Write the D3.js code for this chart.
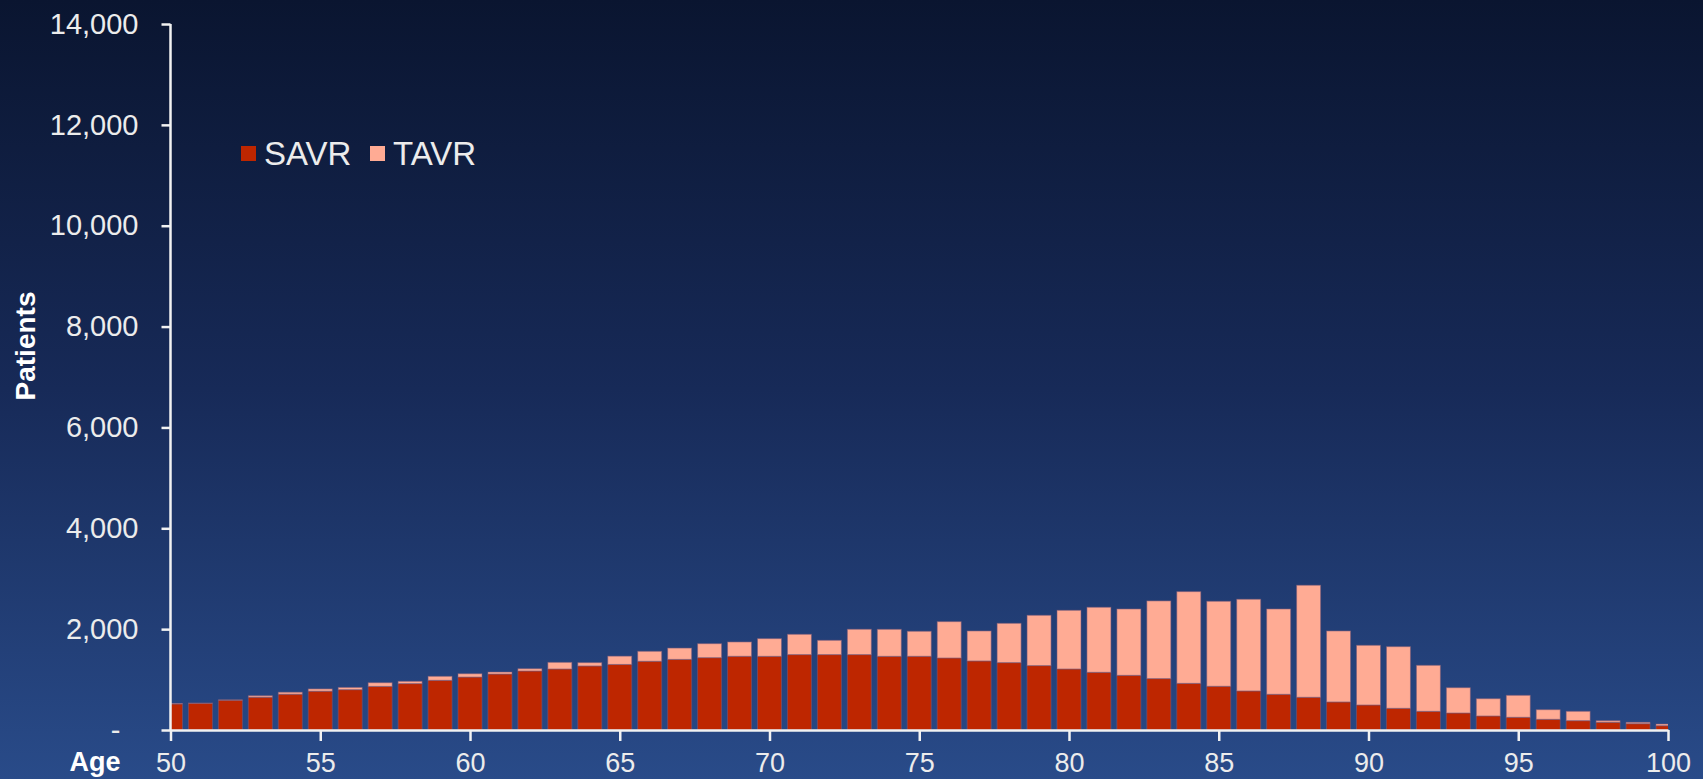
<!DOCTYPE html>
<html>
<head>
<meta charset="utf-8">
<script src="https://cdn.jsdelivr.net/npm/d3@7/dist/d3.min.js"></script>
<style>
  html, body { margin: 0; padding: 0; background: #0b1732; }
  svg { display: block; }
  text { font-family: "Liberation Sans", Arial, sans-serif; }
</style>
</head>
<body>
<svg id="chart" width="1703" height="779"></svg>
<script>
// Patients by age (50–100) receiving surgical vs. transcatheter valve replacement
const ages = [50,51,52,53,54,55,56,57,58,59,60,61,62,63,64,65,66,67,68,69,70,71,72,73,74,75,
              76,77,78,79,80,81,82,83,84,85,86,87,88,89,90,91,92,93,94,95,96,97,98,99,100];
const savr = [516,530,590,650,710,770,800,865,920,985,1050,1110,1170,1210,1270,1300,1363,1400,1434,1462,
              1461,1495,1495,1495,1461,1462,1428,1369,1336,1277,1210,1144,1084,1019,925,867,774,708,649,556,
              496,430,370,337,278,252,212,185,153,125,85];
const tavr = [10,5,8,30,40,45,45,73,46,80,66,40,46,132,66,165,198,225,278,284,
              351,403,284,503,536,496,721,595,780,998,1164,1290,1316,1541,1819,1686,1819,1692,2222,1408,
              1184,1223,913,502,343,436,191,186,32,28,34];
const seriesNames = ["SAVR", "TAVR"];
const seriesColors = ["#be2600", "#ffab94"];
const yTicks = [0,2000,4000,6000,8000,10000,12000,14000];
const xTicks = [50,55,60,65,70,75,80,85,90,95,100];

(function draw() {
  const svg = d3.select("#chart");
  const W = 1703, H = 779;
  const plotL = 170.5, plotR = 1668, plotT = 24, plotB = 730;

  // background gradient
  const defs = svg.append("defs");
  const grad = defs.append("linearGradient").attr("id", "bg")
    .attr("x1", 0).attr("y1", 0).attr("x2", 0).attr("y2", 1);
  grad.append("stop").attr("offset", "0%").attr("stop-color", "#0a1530");
  grad.append("stop").attr("offset", "50%").attr("stop-color", "#172a58");
  grad.append("stop").attr("offset", "100%").attr("stop-color", "#294b89");
  svg.append("rect").attr("width", W).attr("height", H).attr("fill", "url(#bg)");

  defs.append("clipPath").attr("id", "plot")
    .append("rect").attr("x", plotL).attr("y", plotT)
    .attr("width", plotR - plotL).attr("height", plotB - plotT);

  const x = d3.scaleLinear().domain([50, 100]).range([plotL, plotR]);
  const y = d3.scaleLinear().domain([0, 14000]).range([plotB, plotT]);
  const barW = 24;

  const rows = ages.map((a, i) => ({ age: a, SAVR: savr[i], TAVR: tavr[i] }));
  const stacked = d3.stack().keys(seriesNames)(rows);

  const gBars = svg.append("g").attr("clip-path", "url(#plot)");
  gBars.selectAll("g.series").data(stacked).join("g")
    .attr("class", "series")
    .attr("fill", (d, i) => seriesColors[i])
    .selectAll("rect").data(d => d).join("rect")
    .attr("x", d => x(d.data.age) - barW / 2)
    .attr("width", barW)
    .attr("y", d => y(d[1]))
    .attr("height", d => Math.max(0, y(d[0]) - y(d[1])))
    .attr("stroke", "rgba(120,90,120,0.55)")
    .attr("stroke-width", 1);

  // y axis
  const yAxis = d3.axisLeft(y).tickValues(yTicks).tickSize(9).tickPadding(23)
    .tickFormat(d => d === 0 ? "-" : d3.format(",")(d));
  const gy = svg.append("g").attr("transform", `translate(${plotL},0)`).call(yAxis);
  gy.select(".domain").attr("stroke", "#f2f2f2").attr("stroke-width", 2.5)
    .attr("d", `M0,${plotT}V${plotB}`);
  gy.selectAll(".tick line").attr("stroke", "#f2f2f2").attr("stroke-width", 2.5);
  gy.selectAll(".tick text").attr("fill", "#ececec").attr("font-size", 29)
    .attr("font-family", "'Liberation Sans', Arial, sans-serif")
    .attr("dx", d => d === 0 ? -18 : 0);

  // x axis
  const xAxis = d3.axisBottom(x).tickValues(xTicks).tickSize(11).tickPadding(12).tickSizeOuter(0);
  const gx = svg.append("g").attr("transform", `translate(0,${plotB})`).call(xAxis);
  gx.select(".domain").attr("stroke", "#f2f2f2").attr("stroke-width", 2.5);
  gx.selectAll(".tick line").attr("stroke", "#f2f2f2").attr("stroke-width", 2.5);
  gx.selectAll(".tick text").attr("fill", "#ececec").attr("font-size", 27)
    .attr("font-family", "'Liberation Sans', Arial, sans-serif");

  // axis titles
  svg.append("text").attr("transform", "translate(35,346) rotate(-90)")
    .attr("text-anchor", "middle").attr("fill", "#ffffff")
    .attr("font-size", 28).attr("font-weight", "bold").text("Patients");
  svg.append("text").attr("x", 95).attr("y", 771)
    .attr("text-anchor", "middle").attr("fill", "#ffffff")
    .attr("font-size", 27).attr("font-weight", "bold").text("Age");

  // legend
  const legend = svg.append("g").attr("transform", "translate(241,146)");
  const legendX = [0, 129];
  seriesNames.forEach((name, i) => {
    const g = legend.append("g").attr("transform", `translate(${legendX[i]},0)`);
    g.append("rect").attr("width", 15).attr("height", 15).attr("fill", seriesColors[i]);
    g.append("text").attr("x", 23).attr("y", 7.5).attr("dy", "0.35em")
      .attr("fill", "#ececec").attr("font-size", 33).text(name);
  });
})();
</script>
</body>
</html>
